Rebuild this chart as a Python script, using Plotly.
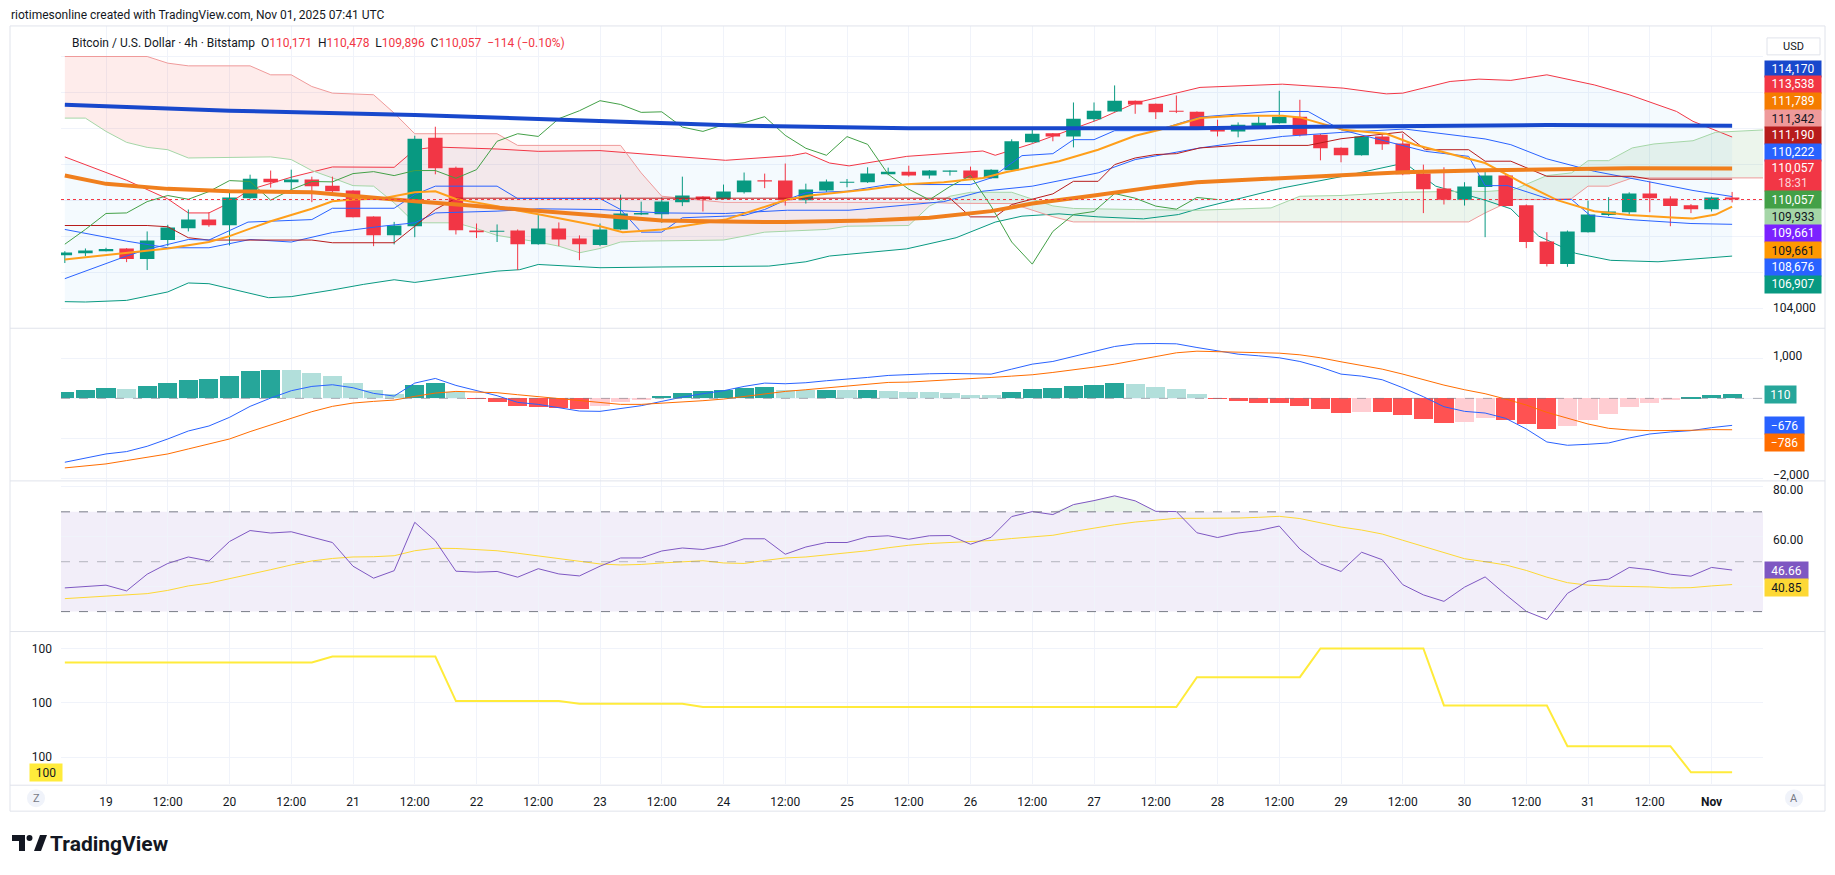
import plotly.graph_objects as go
import numpy as np

W, H = 1835, 875
X0, X1 = 61, 1763


def PX(x):
    return x / W


def PY(y):
    return 1 - y / H


# ---------------- candles (4h, Oct 18 16:00 -> Nov 1 04:00) ----------------
bar_index = list(range(82))
opens = [106960, 107070, 107180, 107330, 106740, 107800, 108460, 108940, 108630, 110130,
         111220, 111020, 111170, 110830, 110560, 109110, 108070, 108570, 113500, 111830,
         108330, 108260, 108330, 107560, 108440, 107890, 107520, 108390, 109220, 109240,
         109910, 110220, 110070, 110460, 111130, 111110, 110020, 110560, 111000, 111020,
         111460, 111610, 111390, 111610, 111670, 111240, 111690, 113240, 113740, 113570,
         114520, 114960, 115560, 115390, 115000, 114940, 114110, 113850, 114130, 114300,
         114670, 113670, 112940, 112520, 113560, 113170, 111500, 110670, 110040, 110760,
         111390, 109740, 107720, 106460, 108240, 109190, 109350, 110390, 110110, 109740,
         109520, 110171]
highs = [107180, 107330, 107370, 107350, 108280, 108650, 109500, 109350, 110430, 111440,
         111670, 111720, 111330, 111330, 110570, 109120, 108810, 113610, 114110, 111890,
         108720, 108670, 108390, 109190, 108780, 108060, 108720, 110330, 109940, 110170,
         111330, 110240, 110890, 111560, 111500, 112060, 110940, 111170, 111200, 111850,
         111830, 111940, 111700, 111680, 111890, 111740, 113410, 113980, 113760, 115460,
         115460, 116410, 115570, 115400, 115850, 114960, 114500, 114350, 114690, 116110,
         115610, 113700, 112960, 113570, 113670, 113720, 112000, 111850, 111020, 111630,
         111400, 109780, 108240, 108330, 110000, 110190, 110460, 111060, 110240, 109800,
         110220, 110478]
lows = [106520, 106910, 107170, 106570, 106130, 107460, 108280, 108540, 107500, 110090,
        110720, 110610, 109910, 110430, 109060, 107460, 107560, 107960, 111460, 108110,
        107910, 107690, 106130, 107540, 107460, 106680, 107460, 108370, 109190, 108760,
        109690, 109390, 110060, 110390, 110690, 109720, 109830, 110480, 110740, 110980,
        111410, 111330, 111220, 111390, 111230, 111220, 111670, 113220, 113300, 112960,
        114410, 114950, 114830, 114540, 114870, 113940, 113570, 113520, 114120, 114280,
        113570, 112240, 112130, 112500, 112820, 111410, 109300, 109780, 109720, 107960,
        109670, 107350, 106330, 106310, 108220, 109130, 109190, 109350, 108570, 109300,
        109390, 109896]
closes = [107110, 107220, 107300, 106740, 107780, 108500, 108940, 108630, 110170, 111220,
          111020, 111170, 110800, 110520, 109070, 108070, 108610, 113440, 111800, 108350,
          108240, 108310, 107570, 108440, 107830, 107570, 108390, 109280, 109310, 109940,
          110280, 110070, 110500, 111110, 111060, 110020, 110610, 111060, 111040, 111500,
          111610, 111390, 111670, 111670, 111240, 111720, 113300, 113720, 113570, 114560,
          115000, 115560, 115350, 114910, 114940, 114090, 113850, 114220, 114330, 114670,
          113630, 112910, 112520, 113560, 113130, 111460, 110630, 110040, 110780, 111390,
          109690, 107690, 106460, 108280, 109220, 109390, 110390, 110130, 109690, 109520,
          110170, 110057]

# ---------------- overlays (bar index, price) ----------------
sma_long_x = [0, 8, 17, 23, 26, 30, 33, 37, 41, 46, 50, 55, 59, 66, 72, 81]
sma_long_y = [115330, 115000, 114760, 114540, 114410, 114280, 114170, 114090, 114020, 114020,
              114020, 114020, 114090, 114170, 114200, 114170]

sma_mid_x = [0, 2, 5, 8, 12, 15, 17, 20, 23, 26, 29, 32, 35, 39, 42, 45, 47, 50, 53, 55,
             59, 62, 65, 69, 72, 76, 81]
sma_mid_y = [111390, 110930, 110650, 110520, 110460, 110150, 109960, 109690, 109410, 109130,
             108890, 108830, 108800, 108890, 109040, 109410, 109830, 110280, 110760, 111020,
             111260, 111430, 111570, 111690, 111760, 111800, 111789]

ema_x = [0, 2, 4, 5, 7, 8, 10, 12, 13, 14, 15.4, 17, 18, 19, 21, 22, 23, 26, 27.1, 29,
         32.1, 35.1, 36.2, 39, 40.9, 42.7, 44.6, 45.7, 48.3, 50.2, 52, 53.2, 55.15, 56.9, 59.15,
         60, 62.1, 64.2, 65.6, 69, 70.8, 72.5, 74.3, 76, 78.3, 79.1, 80.2, 81]
ema_y = [106720, 106960, 107190, 107330, 107690, 108020, 108850, 109540, 109960, 110060,
         110110, 110460, 110520, 110090, 109690, 109440, 109240, 108570, 108240, 108390,
         108940, 110060, 110280, 110610, 110910, 111020, 111260, 111570, 112190, 112830,
         113610, 113940, 114600, 114720, 114720, 114630, 113940, 113720, 113110, 112090,
         110980, 110020, 109410, 109200, 109040, 109000, 109220, 109661]

bb_up_x = [0, 1, 3, 5, 6, 7, 8, 9, 11, 13, 16, 17, 18, 21, 23, 26, 29, 32.1, 35.3, 36,
           37.15, 38.1, 40.9, 42.7, 44.6, 45.2, 47, 50.2, 52, 55.15, 59.15, 62.1, 64.2, 65,
           67.3, 68.7, 70.25, 72, 74.3, 76, 78.3, 79.1, 81]
bb_up_y = [112430, 112000, 111130, 110090, 109310, 109310, 109870, 110610, 111300, 111870,
           111850, 112830, 112980, 112870, 112740, 112780, 112500, 112240, 112500, 112650,
           112090, 111930, 112460, 112610, 112760, 112520, 113170, 114500, 115430, 116300,
           116480, 116260, 115940, 115980, 116630, 116760, 116690, 117000, 116440, 115890,
           114960, 114410, 113538]

bb_mid_x = [0, 3, 5, 7, 9, 11, 13, 15.4, 17, 18, 21, 23, 26, 29, 32.1, 35.1, 38.1, 40.9,
            42.7, 44.6, 47, 50.2, 52, 55.15, 59.15, 62.1, 64.2, 65.1, 69, 70.25, 72, 74.3,
            76.85, 79.1, 81]
bb_mid_y = [108390, 107740, 107370, 107370, 107830, 107690, 108220, 108570, 108760, 109310,
            109410, 109540, 109500, 109310, 109280, 109460, 109460, 109760, 109940, 110520,
            110800, 111540, 112280, 112930, 113570, 113800, 113940, 113980, 113430, 113110,
            112320, 111630, 111070, 110560, 110222]

bb_lo_x = [0, 1, 3, 5, 6, 7, 9.9, 11, 13, 14.5, 16, 17, 21, 22.1, 23, 26, 29, 32.1, 34.2,
           36, 37.15, 40.9, 42.2, 43.3, 45.2, 46.5, 48.3, 50.2, 52.4, 54.1, 55.15, 59.15,
           62.1, 64.2, 65.1, 66.6, 69, 70.25, 71.6, 73.4, 75.1, 77.4, 81]
bb_lo_y = [104370, 104350, 104440, 104910, 105410, 105370, 104590, 104650, 105020, 105330,
           105590, 105440, 106070, 106150, 106440, 106260, 106300, 106310, 106350, 106590,
           106910, 107310, 107650, 107930, 108800, 109130, 109260, 109090, 108980, 109220,
           109570, 110700, 111350, 111870, 112090, 110800, 110020, 109540, 108020, 107060,
           106670, 106590, 106907]

conv_x = [0, 1, 3, 4, 6, 7, 8.9, 12, 13, 16, 17, 18, 21, 22, 26, 27, 28, 29, 30, 33, 34,
          35, 36, 38, 40, 44, 45, 46.5, 48, 49, 50, 51, 53, 55.15, 58.6, 60.4, 61, 62, 66.1,
          68.2, 69, 70.1, 72.16, 73.2, 74.1, 76, 79, 81]
conv_y = [105650, 106070, 106910, 107280, 107830, 107800, 108800, 108940, 109570, 109570,
          110330, 110800, 110800, 110110, 110110, 109500, 108240, 108240, 109040, 109170,
          109500, 110020, 110430, 110520, 110890, 110890, 111260, 112500, 112610, 113390,
          113390, 113890, 113890, 114650, 114960, 114960, 114590, 113940, 112740, 112460,
          110830, 110830, 110060, 110060, 109170, 108940, 108720, 108676]

base_x = [0, 4, 5, 6, 7, 12, 13, 16, 17, 18, 19, 26, 43, 44, 45.2, 46, 48, 49, 50.2, 51,
          52, 53, 54, 55.15, 57, 60.4, 62, 65, 66.1, 68.2, 69, 70.25, 72, 76.15, 77, 81]
base_y = [108610, 108610, 108540, 107930, 107800, 107800, 107650, 107650, 108570, 109500,
          110130, 110130, 110130, 109090, 109090, 109780, 110370, 111070, 111070, 112000,
          112370, 112560, 112610, 112930, 113070, 113070, 113440, 113820, 112830, 112830,
          112190, 112190, 111350, 111350, 111190, 111190]

cloud_x = [0, 1, 2, 3, 4, 5, 6, 9, 10, 11, 12, 13, 14, 15, 16, 17, 19, 20, 21, 22, 23, 24,
           25, 26, 27, 28, 29, 32, 34, 35, 37, 38, 41, 42, 43, 44, 46, 48, 49, 52, 55, 58.6,
           60, 62, 65, 68.2, 69, 70.4, 72, 73.2, 74, 75, 76.15, 77.2, 79.1, 80.2, 82.5]
span_a = [114590, 114590, 113850, 113240, 112960, 112830, 112370, 112430, 112430, 112280,
          111670, 111260, 110830, 110800, 109870, 108760, 108760, 108440, 108060, 107870,
          107690, 107460, 107090, 107330, 107690, 107740, 107760, 107800, 108240, 108300,
          108390, 108570, 108610, 109690, 110240, 110460, 110460, 109700, 109560, 109500,
          109460, 109590, 110240, 110280, 110460, 110520, 110500, 110610, 111390, 111540,
          112220, 112220, 112930, 113150, 113330, 113800, 113930]
span_b = [118020, 118020, 118020, 118020, 118020, 117650, 117500, 117500, 117000, 117000,
          116350, 115980, 115930, 115890, 114870, 113720, 113720, 113720, 113720, 113070,
          113070, 113070, 113070, 113070, 113070, 111540, 110240, 109900, 109900, 109900,
          109900, 109900, 109900, 109900, 109850, 109830, 109830, 109100, 108810, 108810,
          108810, 108810, 108810, 108810, 108810, 108810, 109310, 110060, 110060, 110110,
          110800, 110800, 111260, 111260, 111260, 111260, 111260]

last_price = 110057

# ---------------- MACD ----------------
macd_line = [-1600, -1500, -1392, -1333, -1200, -1017, -817, -692, -475, -200, 8, 192, 300, 342,
             267, 125, 58, 383, 500, 325, 192, 67, -100, -150, -233, -317, -325, -250, -183,
             -75, 33, 117, 192, 300, 383, 367, 392, 442, 475, 525, 575, 600, 617, 625, 608,
             608, 733, 858, 925, 1042, 1175, 1300, 1367, 1375, 1367, 1275, 1183, 1108, 1067,
             1017, 925, 783, 608, 558, 467, 267, 42, -208, -325, -367, -500, -767, -1092,
             -1175, -1150, -1117, -992, -892, -842, -808, -733, -676]
signal_line = [-1742, -1692, -1642, -1558, -1475, -1392, -1267, -1150, -1017, -833, -667, -492,
               -333, -200, -117, -75, -42, 50, 133, 175, 167, 142, 92, 42, -8, -50, -117, -150,
               -150, -125, -92, -58, -17, 50, 125, 175, 217, 267, 317, 358, 400, 408, 433, 458,
               492, 525, 558, 592, 650, 708, 783, 858, 950, 1058, 1142, 1183, 1175, 1167, 1150,
               1133, 1092, 1017, 917, 833, 733, 608, 467, 333, 217, 117, -17, -167, -350, -500,
               -642, -750, -792, -808, -808, -800, -783, -786]
macd_hist = [158, 208, 258, 233, 308, 383, 458, 483, 558, 683, 708, 700, 633, 558, 383, 208,
             100, 333, 383, 150, -15, -108, -208, -215, -242, -267, -208, -108, -42, 58, 133,
             183, 208, 258, 283, 215, 200, 205, 195, 198, 190, 165, 160, 133, 85, 80, 158, 233,
             258, 308, 333, 383, 358, 283, 233, 108, -17, -67, -117, -120, -192, -267, -367,
             -342, -350, -417, -517, -617, -592, -492, -542, -642, -767, -692, -542, -392,
             -217, -117, -42, 8, 83, 110]

# ---------------- RSI ----------------
rsi = [39.5, 40.2, 40.6, 38.3, 45.0, 49.3, 51.9, 50.3, 58.1, 62.5, 61.5, 62.0, 59.7, 57.7, 48.2,
       43.4, 46.4, 65.8, 58.4, 46.2, 45.8, 46.1, 43.8, 47.2, 45.1, 44.3, 48.2, 51.5, 51.5, 54.3,
       55.5, 54.9, 56.5, 59.2, 59.2, 53.0, 55.9, 57.7, 57.7, 60.0, 60.4, 59.0, 60.4, 60.5, 57.0,
       59.8, 68.1, 70.1, 68.9, 72.9, 74.5, 76.4, 74.4, 70.2, 70.1, 61.6, 59.7, 61.5, 62.5, 64.3,
       55.1, 49.1, 46.1, 53.8, 50.8, 40.8, 36.7, 34.1, 39.8, 43.9, 36.8, 30.1, 26.8, 37.3, 42.2,
       43.0, 47.7, 46.8, 45.0, 44.2, 47.7, 46.66]
rsi_ma = [35.2, 35.7, 36.3, 36.7, 37.2, 38.5, 40.3, 41.4, 43.1, 45.0, 46.8, 48.7, 50.3, 51.3,
          51.9, 52.0, 52.4, 54.4, 55.4, 55.3, 54.9, 54.4, 53.4, 52.3, 51.1, 50.0, 49.1, 48.7,
          48.9, 49.5, 50.0, 50.4, 49.5, 49.3, 50.5, 51.5, 51.9, 52.7, 53.5, 54.4, 55.6, 56.6,
          57.3, 57.7, 58.0, 58.5, 59.3, 60.0, 60.6, 62.1, 63.5, 64.8, 65.9, 66.7, 67.4, 67.4,
          67.4, 67.5, 67.8, 68.2, 67.3, 65.5, 63.9, 62.7, 61.1, 58.6, 56.1, 53.5, 51.2, 50.0,
          48.7, 46.5, 43.8, 41.6, 40.6, 40.2, 40.2, 39.9, 39.5, 39.6, 40.3, 40.85]

# ---------------- bottom indicator ----------------
bottom_line = [100.274, 100.274, 100.274, 100.274, 100.274, 100.274, 100.274, 100.274, 100.274,
               100.274, 100.274, 100.274, 100.274, 100.285, 100.285, 100.285, 100.285, 100.285,
               100.285, 100.203, 100.203, 100.203, 100.203, 100.203, 100.203, 100.198, 100.198,
               100.198, 100.198, 100.198, 100.198, 100.192, 100.192, 100.192, 100.192, 100.192,
               100.192, 100.192, 100.192, 100.192, 100.192, 100.192, 100.192, 100.192, 100.192,
               100.192, 100.192, 100.192, 100.192, 100.192, 100.192, 100.192, 100.192, 100.192,
               100.192, 100.247, 100.247, 100.247, 100.247, 100.247, 100.247, 100.300, 100.300,
               100.300, 100.300, 100.300, 100.300, 100.195, 100.195, 100.195, 100.195, 100.195,
               100.195, 100.120, 100.120, 100.120, 100.120, 100.120, 100.120, 100.072, 100.072,
               100.072]

# ---------------- axis labels ----------------
time_tick_pos = [2, 5, 8, 11, 14, 17, 20, 23, 26, 29, 32, 35, 38, 41, 44, 47, 50, 53, 56, 59,
                 62, 65, 68, 71, 74, 77, 80]
time_tick_text = ["19", "12:00", "20", "12:00", "21", "12:00", "22", "12:00", "23", "12:00",
                  "24", "12:00", "25", "12:00", "26", "12:00", "27", "12:00", "28", "12:00",
                  "29", "12:00", "30", "12:00", "31", "12:00", "<b>Nov</b>"]
price_ticks = [104000, 106000, 108000, 110000, 112000, 114000, 116000, 118000]
price_tick_text = ["104,000", "", "", "", "", "", "", ""]
macd_ticks = [1000, 0, -1000, -2000]
macd_tick_text = ["1,000", "", "", "\u22122,000"]
rsi_ticks = [80, 60, 40]
rsi_tick_text = ["80.00", "60.00", ""]
bottom_ticks = [100.1, 100.2, 100.3]
bottom_tick_text = ["100", "100", "100"]

price_labels = ["114,170", "113,538", "111,789", "111,342", "111,190", "110,222",
                "110,057", "110,057", "109,933", "109,661", "109,661", "108,676", "106,907"]
price_label_bg = ["#1848CC", "#F23645", "#F57C00", "#EF9A9A", "#B71C1C", "#2962FF",
                  "#F23645", "#43A047", "#A5D6A7", "#7B22FF", "#FF9800", "#2962FF", "#089981"]
price_label_fg = ["white", "white", "white", "#131722", "white", "white",
                  "white", "white", "#131722", "white", "#131722", "white", "white"]

GRID = "#F0F3FA"
TXT = "#131722"
GREEN = "#089981"
RED = "#F23645"

fig = go.Figure()


def add(tr, row):
    ax = "" if row == 1 else str(row)
    tr.update(xaxis="x" + ax, yaxis="y" + ax, showlegend=False, hoverinfo="skip")
    fig.add_trace(tr)


# ---- Ichimoku cloud fills ----
def cloud_segments(xs, a, b):
    segs = []
    cx, ca, cb = [xs[0]], [a[0]], [b[0]]
    sign = a[0] >= b[0]
    for k in range(1, len(xs)):
        s = a[k] >= b[k]
        if s != sign:
            d0 = a[k - 1] - b[k - 1]
            d1 = a[k] - b[k]
            t = d0 / (d0 - d1)
            xi = xs[k - 1] + t * (xs[k] - xs[k - 1])
            yi = a[k - 1] + t * (a[k] - a[k - 1])
            cx.append(xi); ca.append(yi); cb.append(yi)
            segs.append((sign, cx, ca, cb))
            cx, ca, cb = [xi], [yi], [yi]
            sign = s
        cx.append(xs[k]); ca.append(a[k]); cb.append(b[k])
    segs.append((sign, cx, ca, cb))
    return segs


for up, sx, sa, sb in cloud_segments(cloud_x, span_a, span_b):
    add(go.Scatter(x=sx + sx[::-1], y=sa + sb[::-1], mode="lines", fill="toself",
                   fillcolor="rgba(67,160,71,0.10)" if up else "rgba(244,67,54,0.10)",
                   line=dict(width=0)), 1)

# ---- Bollinger fill ----
add(go.Scatter(x=bb_up_x, y=bb_up_y, mode="lines", line=dict(color=RED, width=1)), 1)
add(go.Scatter(x=bb_lo_x, y=bb_lo_y, mode="lines", line=dict(color=GREEN, width=1),
               fill="tonexty", fillcolor="rgba(33,150,243,0.05)"), 1)

# ---- spans ----
add(go.Scatter(x=cloud_x, y=span_a, mode="lines", line=dict(color="#A5D6A7", width=1)), 1)
add(go.Scatter(x=cloud_x, y=span_b, mode="lines", line=dict(color="#EF9A9A", width=1)), 1)

# ---- candles ----
for up in (True, False):
    wx, wy, bx, by = [], [], [], []
    for i in bar_index:
        o, h, l, c = opens[i], highs[i], lows[i], closes[i]
        if (c >= o) != up:
            continue
        wx += [i, i, None]
        wy += [l, h, None]
        lo_b, hi_b = min(o, c), max(o, c)
        if hi_b - lo_b < 56:
            m = (hi_b + lo_b) / 2
            lo_b, hi_b = m - 28, m + 28
        bx += [i, i, None]
        by += [lo_b, hi_b, None]
    col = GREEN if up else RED
    add(go.Scatter(x=wx, y=wy, mode="lines", line=dict(color=col, width=1)), 1)
    add(go.Scatter(x=bx, y=by, mode="lines", line=dict(color=col, width=14.5)), 1)

# ---- lines ----
add(go.Scatter(x=bb_mid_x, y=bb_mid_y, mode="lines", line=dict(color="#2962FF", width=1)), 1)
add(go.Scatter(x=base_x, y=base_y, mode="lines", line=dict(color="#B71C1C", width=1)), 1)
add(go.Scatter(x=conv_x, y=conv_y, mode="lines", line=dict(color="#2962FF", width=1)), 1)
add(go.Scatter(x=bar_index[:len(closes) - 25], y=closes[25:], mode="lines",
               line=dict(color="#43A047", width=1)), 1)
add(go.Scatter(x=ema_x, y=ema_y, mode="lines", line=dict(color="#FF9F1A", width=2)), 1)
add(go.Scatter(x=sma_mid_x, y=sma_mid_y, mode="lines", line=dict(color="#F07F1D", width=4)), 1)
add(go.Scatter(x=sma_long_x, y=sma_long_y, mode="lines", line=dict(color="#1848CC", width=4)), 1)

# ---- MACD ----
hist_colors = []
for i, v in enumerate(macd_hist):
    prev = macd_hist[i - 1] if i > 0 else v - 1
    if v >= 0:
        hist_colors.append("#26A69A" if v > prev else "#B2DFDB")
    else:
        hist_colors.append("#FFCDD2" if v > prev else "#FF5252")
add(go.Bar(x=bar_index, y=macd_hist, width=0.93, marker=dict(color=hist_colors, line=dict(width=0))), 2)
add(go.Scatter(x=bar_index, y=macd_line, mode="lines", line=dict(color="#2962FF", width=1)), 2)
add(go.Scatter(x=bar_index, y=signal_line, mode="lines", line=dict(color="#FF6D00", width=1)), 2)

# ---- RSI ----
rsi_clip = list(np.maximum(np.array(rsi), 70.0))
add(go.Scatter(x=bar_index, y=[70.0] * len(bar_index), mode="lines", line=dict(width=0)), 3)
add(go.Scatter(x=bar_index, y=rsi_clip, mode="lines", line=dict(width=0), fill="tonexty",
               fillcolor="rgba(76,175,80,0.12)"), 3)
add(go.Scatter(x=bar_index, y=rsi_ma, mode="lines", line=dict(color="#FDD835", width=1)), 3)
add(go.Scatter(x=bar_index, y=rsi, mode="lines", line=dict(color="#7E57C2", width=1)), 3)

# ---- bottom ----
add(go.Scatter(x=bar_index, y=bottom_line, mode="lines", line=dict(color="#FFEB3B", width=2)), 4)

# ---------------- layout ----------------
xr = [-0.186, 82.5]
xdom = [X0 / W, X1 / W]


def xax(anchor, labels):
    d = dict(domain=xdom, range=xr, anchor=anchor, showgrid=True, gridcolor=GRID, gridwidth=1,
             zeroline=False, showline=False, tickvals=time_tick_pos, ticktext=time_tick_text,
             showticklabels=labels, ticks="", fixedrange=True)
    if anchor != "y":
        d["matches"] = "x"
    if labels:
        d.update(tickfont=dict(size=12, color=TXT), ticklabelstandoff=9)
    return d


def yax(dom, rng, vals, text, side="right", shift=0):
    return dict(domain=dom, range=rng, side=side, showgrid=True, gridcolor=GRID, gridwidth=1,
                zeroline=False, showline=False, tickvals=vals, ticktext=text, ticks="",
                tickfont=dict(size=12, color=TXT), ticklabelstandoff=9 if side == "right" else 8,
                ticklabelshift=shift, fixedrange=True)


fig.update_layout(
    width=W, height=H, autosize=False,
    margin=dict(l=0, r=0, t=0, b=0),
    paper_bgcolor="white", plot_bgcolor="white",
    font=dict(family="Roboto", size=12, color=TXT),
    showlegend=False, bargap=0,
    xaxis=xax("y", False), xaxis2=xax("y2", False), xaxis3=xax("y3", False), xaxis4=xax("y4", True),
    yaxis=dict(yax([PY(329), PY(26)], [102889, 119722], price_ticks, price_tick_text), anchor="x"),
    yaxis2=dict(yax([PY(482), PY(329)], [-2067.5, 1757.5], macd_ticks, macd_tick_text, shift=-3),
                anchor="x2"),
    yaxis3=dict(yax([PY(633), PY(482)], [22.0, 82.4], rsi_ticks, rsi_tick_text, shift=3), anchor="x3"),
    yaxis4=dict(yax([PY(786), PY(633)], [100.050, 100.331], bottom_ticks, bottom_tick_text, side="left"),
                anchor="x4"),
)

shapes = []
ann = []

# frame and separators
shapes.append(dict(type="rect", xref="paper", yref="paper", x0=PX(10), x1=PX(1825), y0=PY(813), y1=PY(26),
                   line=dict(color="#E0E3EB", width=1), fillcolor="rgba(0,0,0,0)", layer="above"))
for yy in (329, 482, 633, 787):
    shapes.append(dict(type="line", xref="paper", yref="paper", x0=PX(10), x1=PX(1825), y0=PY(yy), y1=PY(yy),
                       line=dict(color="#E0E3EB", width=1)))

# last price dotted line
shapes.append(dict(type="line", xref="x domain", yref="y", x0=0, x1=1, y0=last_price, y1=last_price,
                   line=dict(color=RED, width=1, dash="dot")))
# MACD zero line
shapes.append(dict(type="line", xref="x2 domain", yref="y2", x0=0, x1=1, y0=0, y1=0,
                   line=dict(color="rgba(120,123,134,0.6)", width=1, dash="dash"), layer="above"))
# RSI band and levels
shapes.append(dict(type="rect", xref="x3 domain", yref="y3", x0=0, x1=1, y0=30, y1=70,
                   fillcolor="rgba(126,87,194,0.10)", line=dict(width=0), layer="below"))
for lv, col in ((70, "#787B86"), (30, "#787B86"), (50, "rgba(120,123,134,0.5)")):
    shapes.append(dict(type="line", xref="x3 domain", yref="y3", x0=0, x1=1, y0=lv, y1=lv,
                       line=dict(color=col, width=1, dash="dash")))

# header texts
ann.append(dict(xref="paper", yref="paper", x=PX(9), y=PY(15), xanchor="left", yanchor="middle",
                text="riotimesonline created with TradingView.com, Nov 01, 2025 07:41 UTC",
                showarrow=False, font=dict(size=12, color=TXT)))
r = "<span style='color:#F23645'>%s</span>"
legend_txt = ("Bitcoin / U.S. Dollar \u00b7 4h \u00b7 Bitstamp&nbsp;&nbsp;O" + r % "110,171" + "&nbsp;&nbsp;H" +
              r % "110,478" + "&nbsp;&nbsp;L" + r % "109,896" + "&nbsp;&nbsp;C" + r % "110,057" +
              "&nbsp;&nbsp;" + r % "\u2212114 (\u22120.10%)")
ann.append(dict(xref="paper", yref="paper", x=PX(70), y=PY(43), xanchor="left", yanchor="middle",
                text=legend_txt, showarrow=False, font=dict(size=12, color=TXT)))

# USD box
shapes.append(dict(type="rect", xref="paper", yref="paper", x0=PX(1767), x1=PX(1820), y0=PY(55), y1=PY(38),
                   line=dict(color="#E0E3EB", width=1), fillcolor="white", layer="above"))
ann.append(dict(xref="paper", yref="paper", x=PX(1793), y=PY(46.5), xanchor="center", yanchor="middle",
                text="USD", showarrow=False, font=dict(size=11, color=TXT)))


def label(txt, bg, fg, x_left, width, y_top, y_bot, xanchor="left"):
    ann.append(dict(xref="paper", yref="paper", x=PX(x_left), y=PY((y_top + y_bot) / 2), xanchor=xanchor,
                    yanchor="middle", text=txt, showarrow=False, bgcolor=bg, borderpad=1,
                    width=width - 2, height=(y_bot - y_top) - 2, align="center",
                    font=dict(size=12, color=fg)))


# price scale labels
tops = [60.7, 76.7, 93.3, 110.0, 127.3, 144.0, 160.7, 191.7, 209.3, 226.0, 242.7, 260.0, 276.7]
bots = [76.7, 93.3, 110.0, 127.3, 144.0, 160.7, 191.7, 209.3, 226.0, 242.7, 260.0, 276.7, 293.3]
for k, t in enumerate(price_labels):
    txt = t
    if k == 6:
        txt = t + "<br><span style='color:#FDD3D6'>18:31</span>"
    label(txt, price_label_bg[k], price_label_fg[k], 1764, 56, tops[k], bots[k])

# MACD / RSI labels
label("110", "#26A69A", "white", 1764, 31, 387, 404)
label("\u2212676", "#2962FF", "white", 1764, 39, 418, 435)
label("\u2212786", "#FF6D00", "white", 1764, 39, 435, 452)
label("46.66", "#7E57C2", "white", 1764, 43, 563, 580)
label("40.85", "#FDD835", TXT, 1764, 43, 580, 597)
# bottom-left yellow label
label("100", "#FFEB3B", TXT, 29, 32, 766, 783)

# Z / A buttons
for cx, letter in ((36, "Z"), (1794, "A")):
    shapes.append(dict(type="circle", xref="paper", yref="paper", x0=PX(cx - 9), x1=PX(cx + 9),
                       y0=PY(809), y1=PY(791), fillcolor="#F0F3FA", line=dict(width=0)))
    ann.append(dict(xref="paper", yref="paper", x=PX(cx), y=PY(800), xanchor="center", yanchor="middle",
                    text=letter, showarrow=False, font=dict(size=11, color="#787B86")))


# TradingView logo
def path(pts):
    return "M " + " L ".join("%f,%f" % (PX(a), PY(b)) for a, b in pts) + " Z"


shapes.append(dict(type="path", xref="paper", yref="paper",
                   path=path([(12, 837), (25, 837), (25, 853), (19, 853), (19, 843), (12, 843)]),
                   fillcolor="#131722", line=dict(width=0)))
shapes.append(dict(type="circle", xref="paper", yref="paper", x0=PX(26.5), x1=PX(32.5), y0=PY(843), y1=PY(837),
                   fillcolor="#131722", line=dict(width=0)))
shapes.append(dict(type="path", xref="paper", yref="paper",
                   path=path([(34, 853), (40, 837), (47, 837), (41, 853)]),
                   fillcolor="#131722", line=dict(width=0)))
ann.append(dict(xref="paper", yref="paper", x=PX(48), y=PY(846), xanchor="left", yanchor="middle",
                text="TradingView", showarrow=False,
                font=dict(size=21, color="#131722", family="Roboto", weight=700)))

fig.update_layout(shapes=shapes, annotations=ann)
fig.write_html("out.html")
